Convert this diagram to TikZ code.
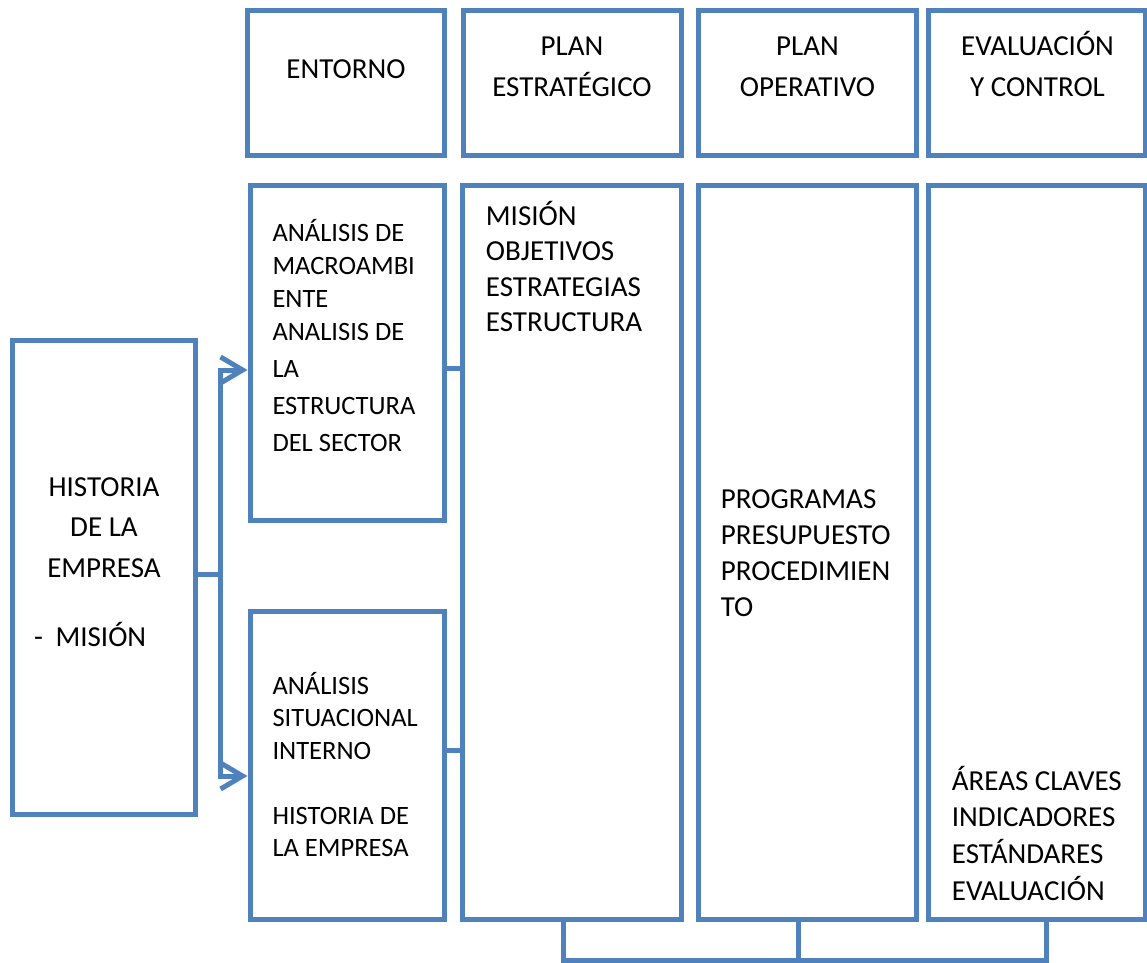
\documentclass[tikz,border=0pt]{standalone}
\usepackage{fontspec}
\setmainfont{Carlito}
\usetikzlibrary{arrows.meta}
\definecolor{blu}{RGB}{79,129,189}
\tikzset{
  box/.style={draw=blu, line width=5pt, outer sep=0pt, inner sep=0pt, anchor=north west, fill=white},
  conn/.style={draw=blu, line width=5pt},
  arr/.style={-{Straight Barb[length=22pt,width=26pt]}},
  hdr/.style={inner sep=0pt, anchor=base, font=\fontsize{29}{41.5}\selectfont},
  bodyA/.style={inner sep=0pt, anchor=base west, font=\fontsize{29}{36}\selectfont},
  bodyB/.style={inner sep=0pt, anchor=base west, font=\fontsize{26.5}{32.5}\selectfont},
}
\begin{document}
\begin{tikzpicture}[x=1pt,y=-1pt]
\useasboundingbox (0,0) rectangle (1147,962);

% top row
\node[box, minimum width=196.5pt, minimum height=145pt] (entorno) at (247.5,10) {};
\node[box, minimum width=218.5pt, minimum height=145pt] (planEh) at (463,10) {};
\node[box, minimum width=218pt, minimum height=145pt] (planOh) at (698.5,10) {};
\node[box, minimum width=216.5pt, minimum height=145pt] (evalh) at (928.5,10) {};

% lower boxes
\node[box, minimum width=194pt, minimum height=335pt] (anal1) at (250,185) {};
\node[box, minimum width=194pt, minimum height=308pt] (anal2) at (250,611) {};
\node[box, minimum width=219pt, minimum height=734.5pt] (planE) at (462.5,185) {};
\node[box, minimum width=218pt, minimum height=734.5pt] (planO) at (698.5,185) {};
\node[box, minimum width=216.5pt, minimum height=734.5pt] (eval) at (928.5,185) {};
\node[box, minimum width=183pt, minimum height=474.5pt] (hist) at (12.5,340) {};

% header texts
\node[hdr] (tEnt) at (346,78) {ENTORNO};
\node[hdr] (tPE) at (572,55) {\parbox[t]{210pt}{\centering PLAN\\ESTRATÉGICO}};
\node[hdr] (tPO) at (807.5,55) {\parbox[t]{210pt}{\centering PLAN\\OPERATIVO}};
\node[hdr] (tEv) at (1037.5,55) {\parbox[t]{210pt}{\centering EVALUACIÓN\\Y CONTROL}};

% body texts
\node[bodyB] (tA1) at (272.3,241) {\parbox[t]{170pt}{\raggedright\baselineskip=33pt ANÁLISIS DE\\MACROAMBI\\ENTE\\ANALISIS DE\\[4pt]LA\\[4pt]ESTRUCTURA\\[4pt]DEL SECTOR}};
\node[bodyB] (tA2) at (272.3,694) {\parbox[t]{170pt}{\raggedright ANÁLISIS\\SITUACIONAL\\INTERNO\\[32.5pt]HISTORIA DE\\LA EMPRESA}};
\node[bodyA] (tPEb) at (485.7,225) {\parbox[t]{190pt}{\raggedright\baselineskip=35.5pt MISIÓN\\OBJETIVOS\\ESTRATEGIAS\\ESTRUCTURA}};
\node[bodyA] (tPOb) at (720.7,508.3) {\parbox[t]{190pt}{\raggedright PROGRAMAS\\PRESUPUESTO\\PROCEDIMIEN\\TO}};
\node[bodyA] (tEvb) at (951.7,790) {\parbox[t]{190pt}{\raggedright\baselineskip=36.7pt ÁREAS CLAVES\\INDICADORES\\ESTÁNDARES\\EVALUACIÓN}};
\node[hdr] (tH) at (104,496) {\parbox[t]{175pt}{\centering\baselineskip=40.8pt HISTORIA\\DE LA\\EMPRESA}};
\node[hdr, anchor=base west] (tM) at (34,646) {-\hspace{12.5pt}MISIÓN};

% connectors from historia
\coordinate (j) at (220,574);
\coordinate (a1) at (220,370);
\coordinate (a2) at (220,776);
\draw[conn] (hist.east |- j) -- (j);
\draw[conn, arr] (j) -- (a1) -- ([xshift=-2.5pt]a1 -| anal1.west);
\draw[conn, arr] (j) -- (a2) -- ([xshift=-2.5pt]a2 -| anal2.west);

% connectors analysis -> plan estrategico
\coordinate (c1) at (450,368);
\coordinate (c2) at (450,750);
\draw[conn] (anal1.east |- c1) -- (planE.west |- c1);
\draw[conn] (anal2.east |- c2) -- (planE.west |- c2);

% bottom connectors
\coordinate (b1) at (563,960);
\coordinate (b2) at (798,960);
\coordinate (b3) at (1046.5,960);
\draw[conn] (b1 |- planE.south) -- (b1) -- (b3) -- (b3 |- eval.south);
\draw[conn] (b2 |- planO.south) -- (b2);
\end{tikzpicture}
\end{document}
